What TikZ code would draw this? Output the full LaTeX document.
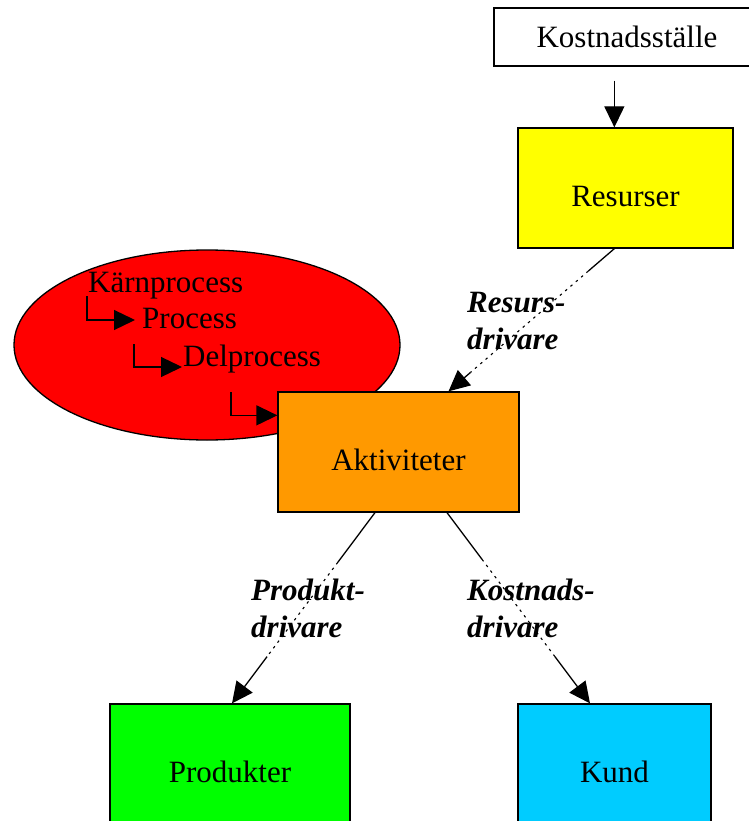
\documentclass[tikz,border=0pt]{standalone}
\usepackage{fontspec}
\setmainfont{Liberation Serif}
\usetikzlibrary{arrows.meta,calc,shapes.geometric}
\definecolor{resyellow}{HTML}{FFFF00}
\definecolor{procred}{HTML}{FF0000}
\definecolor{actorange}{HTML}{FF9900}
\definecolor{prodgreen}{HTML}{00FF00}
\definecolor{custcyan}{HTML}{00CCFF}
\begin{document}
\begin{tikzpicture}[x=1bp,y=-1bp,
  font=\fontsize{31bp}{37bp}\selectfont,
  box/.style={draw=black, line width=1.3bp, inner sep=0pt},
  lowtext/.style={text height=36bp, text depth=0bp},
  arr/.style={-{Triangle[length=21bp,width=20bp]}, line width=1.3bp},
  solidpart/.style={line width=1.3bp},
  dotpart/.style={line width=1.1bp, dash pattern=on 2.5bp off 4.5bp},
  drv/.style={font=\fontsize{31bp}{37bp}\selectfont\bfseries\itshape,
              align=left, anchor=base west, inner sep=0pt},
  ptext/.style={anchor=base west, inner sep=0pt}]
\useasboundingbox (0,0) rectangle (749,821);

% cost centre and resources
\node[box, fill=white, minimum width=266bp, minimum height=58bp] (kst) at (627,37) {Kostnadsställe};
\node[box, lowtext, fill=resyellow, minimum width=215bp, minimum height=120bp] (res) at (625.5,188) {Resurser};

% process hierarchy
\node[ellipse, box, fill=procred, minimum width=386bp, minimum height=190bp] (core) at (207,345) {};
\node[ptext] (kp) at (88,292) {Kärnprocess};
\node[ptext] (pr) at (142,328) {Process};
\node[ptext] (dp) at (183,366) {Delprocess};

% activities, products and customer
\node[box, lowtext, fill=actorange, minimum width=241bp, minimum height=120bp] (akt) at (398.5,452) {Aktiviteter};
\node[box, lowtext, fill=prodgreen, minimum width=240bp, minimum height=120bp] (prod) at (230,764) {Produkter};
\node[box, lowtext, fill=custcyan, minimum width=193bp, minimum height=120bp] (kund) at (614.5,764) {Kund};

% elbow arrows inside the process ellipse
\coordinate (e1) at ($(kp.base west)+(-1,4)$);
\coordinate (e2) at ($(pr.base west)+(-8,16)$);
\coordinate (e3) at ($(dp.base west)+(48,26)$);
\draw[arr] (e1) |- ($(pr.base west)+(-7,-8)$);
\draw[arr] (e2) |- ($(dp.base west)+(-1,1)$);
\draw[arr] (e3) |- ($(akt.north west)+(0,24)$);

% cost centre to resources
\coordinate (rin) at ($(res.north west)+(97,0)$);
\draw[arr, shorten <=14bp] (kst.south -| rin) -- (rin);

% resource driver
\coordinate (rs) at ($(res.south west)+(97,0)$);
\coordinate (re) at ($(akt.north)+(50,0)$);
\draw[solidpart] (rs) -- ($(rs)!0.157!(re)$);
\draw[dotpart] ($(rs)!0.157!(re)$) -- ($(rs)!0.867!(re)$);
\draw[arr] ($(rs)!0.867!(re)$) -- (re);

% product driver
\coordinate (ps) at ($(akt.south)+(-23.5,0)$);
\coordinate (pe) at ($(prod.north)+(2,0)$);
\draw[solidpart] (ps) -- ($(ps)!0.26!(pe)$);
\draw[dotpart] ($(ps)!0.26!(pe)$) -- ($(ps)!0.755!(pe)$);
\draw[arr] ($(ps)!0.755!(pe)$) -- (pe);

% cost driver
\coordinate (ks) at ($(akt.south)+(48.5,0)$);
\coordinate (ke) at ($(kund.north)+(-24.5,0)$);
\draw[solidpart] (ks) -- ($(ks)!0.245!(ke)$);
\draw[dotpart] ($(ks)!0.245!(ke)$) -- ($(ks)!0.755!(ke)$);
\draw[arr] ($(ks)!0.755!(ke)$) -- (ke);

% driver labels (anchored at the baseline of the second line)
\node[drv] (lres) at (467,349) {Resurs-\\drivare};
\node[drv] (lprod) at (251,637) {Produkt-\\drivare};
\node[drv] (lkost) at (467,637) {Kostnads-\\drivare};
\end{tikzpicture}
\end{document}
